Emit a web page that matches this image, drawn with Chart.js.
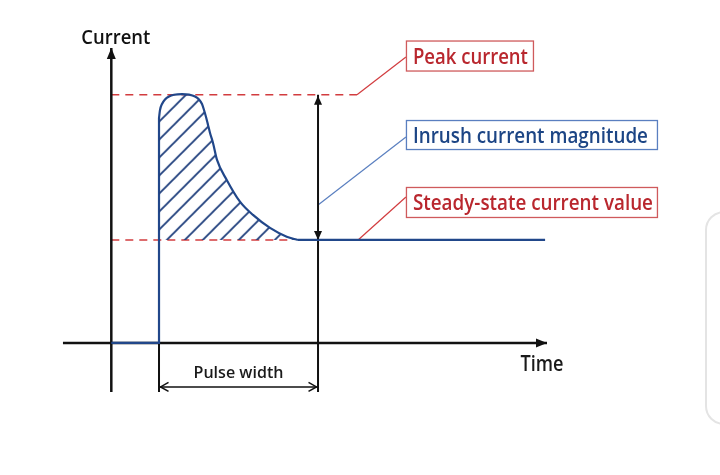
<!DOCTYPE html>
<html><head><meta charset="utf-8">
<script src="https://cdn.jsdelivr.net/npm/chart.js@4.4.1/dist/chart.umd.min.js"></script>
<style>html,body{margin:0;padding:0;background:#fff;overflow:hidden}</style>
</head><body>
<canvas id="c" width="720" height="475"></canvas>
<script>
// ---- data (time in ms, current in A) ----
const pulseT = [0, 0.063, 0.189, 0.377, 0.629, 0.943, 1.447, 1.887, 2.264, 2.516, 2.704, 2.830, 2.956, 3.082, 3.208, 3.396, 3.648, 4.26, 5.09, 5.91, 6.98, 8.03, 8.74];
const pulseI = [2.184, 2.262, 2.320, 2.364, 2.393, 2.410, 2.417, 2.412, 2.393, 2.364, 2.320, 2.262, 2.194, 2.117, 2.039, 1.942, 1.777, 1.583, 1.372, 1.243, 1.117, 1.032, 1.0];
const riseT = [-3, 0, 0];
const riseI = [0, 0, 2.184];
const steadyT = [8.74, 24.28];
const steadyI = [1.0, 1.0];
const peakValue = 2.41;
const steadyValue = 1.0;
const pulseWidth = 10;
const axisLabels = ["Current", "Time"];
const pulseLabel = "Pulse width";
const calloutTexts = ["Peak current", "Inrush current magnitude", "Steady-state current value"];

// ---- layout ----
const X_MIN = -10, X_MAX = 35.28, Y_MIN = -1.282, Y_MAX = 3.330;
const yAxisT = -3, xAxisStart = -6.04, xAxisEnd = 24.4, yAxisTop = 2.864, dropBottom = -0.476, pwArrowI = -0.427;
const leaderT = 15.53;
const callouts = [
  {i: 0, I: 2.786, from: [12.45, peakValue], to: [leaderT, 2.777], w: 128, h: 31, kind: 'red', textW: 115},
  {i: 1, I: 2.019, from: [pulseWidth, 1.34], to: [leaderT, 2.0], w: 252, h: 30, kind: 'blue', textW: 235},
  {i: 2, I: 1.364, from: [12.52, steadyValue], to: [leaderT, 1.417], w: 252, h: 31, kind: 'red', textW: 240}
];
const COL = {
  blue: '#21478a', hatch: '#1f3f7c', blueBox: '#5a7fc0', blueText: '#1c4585',
  red: '#d23c3f', redBox: '#cf5a5c', redText: '#b9272e', black: '#111111'
};

const pts = (xs, ys) => xs.map((x, k) => ({x, y: ys[k]}));

// hatch pattern
const pc = document.createElement('canvas');
pc.width = 18; pc.height = 18;
const pctx = pc.getContext('2d');
pctx.strokeStyle = COL.hatch; pctx.lineWidth = 1.8;
pctx.beginPath();
pctx.moveTo(-2, 20); pctx.lineTo(20, -2);
pctx.moveTo(-2, 2); pctx.lineTo(2, -2);
pctx.moveTo(16, 20); pctx.lineTo(20, 16);
pctx.stroke();
const hatch = pctx.createPattern(pc, 'repeat');
try { hatch.setTransform(new DOMMatrix().translate(10.7, 0)); } catch (e) {}

function line(data, color, width, order, extra) {
  return Object.assign({data, borderColor: color, borderWidth: width, pointRadius: 0, showLine: true,
    fill: false, tension: 0, order}, extra || {});
}

const datasets = [
  line(pts(pulseT, pulseI), COL.blue, 2.2, 1, {cubicInterpolationMode: 'monotone', fill: {value: steadyValue}, backgroundColor: hatch}),
  line(pts(riseT, riseI), COL.blue, 2.2, 1),
  line(pts(steadyT, steadyI), COL.blue, 2.2, 1),
  line([{x: yAxisT, y: peakValue}, {x: 12.45, y: peakValue}], COL.red, 1.5, 3, {borderDash: [8, 6]}),
  line([{x: yAxisT, y: steadyValue}, {x: 8.4, y: steadyValue}], COL.red, 1.5, 3, {borderDash: [8, 6]}),
  line([{x: xAxisStart, y: 0}, {x: xAxisEnd, y: 0}], COL.black, 2.5, 2),
  line([{x: yAxisT, y: dropBottom}, {x: yAxisT, y: yAxisTop}], COL.black, 2.5, 2),
  line([{x: 0, y: 0}, {x: 0, y: dropBottom}], COL.black, 2, 2),
  line([{x: pulseWidth, y: dropBottom}, {x: pulseWidth, y: peakValue}], COL.black, 2, 2),
  line([{x: 0, y: pwArrowI}, {x: pulseWidth, y: pwArrowI}], COL.black, 1.5, 2)
];
callouts.forEach(c => {
  datasets.push(line([{x: c.from[0], y: c.from[1]}, {x: c.to[0], y: c.to[1]}],
    c.kind === 'red' ? COL.red : COL.blueBox, 1.2, 4));
});

function drawText(ctx, text, x, base, size, color, targetW, align) {
  ctx.save();
  ctx.font = '600 ' + size + 'px "Open Sans", "Noto Sans", sans-serif';
  const w = ctx.measureText(text).width;
  const s = targetW / w;
  let left = x;
  if (align === 'center') left = x - targetW / 2;
  ctx.translate(left, base);
  ctx.scale(s, 1);
  ctx.fillStyle = color;
  ctx.textBaseline = 'alphabetic';
  ctx.textAlign = 'left';
  ctx.fillText(text, 0, 0);
  ctx.restore();
}
function tri(ctx, tx, ty, dx, dy, len, half) {
  const bx = tx - dx * len, by = ty - dy * len;
  ctx.beginPath();
  ctx.moveTo(tx, ty);
  ctx.lineTo(bx - dy * half, by + dx * half);
  ctx.lineTo(bx + dy * half, by - dx * half);
  ctx.closePath(); ctx.fill();
}
function chevron(ctx, tx, ty, dx, len, half) {
  ctx.beginPath();
  ctx.moveTo(tx - dx * len, ty - half);
  ctx.lineTo(tx, ty);
  ctx.lineTo(tx - dx * len, ty + half);
  ctx.stroke();
}

const decor = {
  id: 'decor',
  beforeDraw(chart) {
    const ctx = chart.ctx;
    ctx.save();
    ctx.fillStyle = '#fff';
    ctx.fillRect(0, 0, chart.width, chart.height);
    ctx.strokeStyle = '#e4e4e4'; ctx.lineWidth = 2;
    ctx.beginPath();
    if (ctx.roundRect) ctx.roundRect(706, 212, 60, 212, 18); else ctx.rect(706, 212, 60, 212);
    ctx.stroke();
    ctx.restore();
  },
  afterDatasetsDraw(chart) {
    const ctx = chart.ctx, X = chart.scales.x, Y = chart.scales.y;
    const px = v => X.getPixelForValue(v), py = v => Y.getPixelForValue(v);
    ctx.save();
    ctx.fillStyle = COL.black; ctx.strokeStyle = COL.black;
    tri(ctx, px(yAxisT), py(yAxisTop), 0, -1, 11, 4.5);
    tri(ctx, px(xAxisEnd), py(0), 1, 0, 11, 4.5);
    tri(ctx, px(pulseWidth), py(peakValue) + 1, 0, -1, 9, 4);
    tri(ctx, px(pulseWidth), py(steadyValue), 0, 1, 9, 4);
    ctx.lineWidth = 1.5;
    chevron(ctx, px(0) + 1.5, py(pwArrowI), -1, 8, 4.5);
    chevron(ctx, px(pulseWidth) - 1.5, py(pwArrowI), 1, 8, 4.5);
    callouts.forEach(c => {
      const left = px(leaderT), cy = py(c.I);
      ctx.fillStyle = '#fff';
      ctx.fillRect(left, cy - c.h / 2, c.w, c.h);
      ctx.lineWidth = 1.3;
      ctx.strokeStyle = c.kind === 'red' ? COL.redBox : COL.blueBox;
      ctx.strokeRect(left + 0.5, cy - c.h / 2 + 0.5, c.w - 1, c.h - 1);
      drawText(ctx, calloutTexts[c.i], left + 7, cy + 8, 22, c.kind === 'red' ? COL.redText : COL.blueText, c.textW, 'left');
    });
    drawText(ctx, axisLabels[0], px(yAxisT) + 4.5, py(yAxisTop) - 4, 20, COL.black, 69, 'center');
    drawText(ctx, axisLabels[1], px(xAxisEnd) - 5, py(0) + 28, 22, '#1a1a1a', 43, 'center');
    drawText(ctx, pulseLabel, px(pulseWidth / 2), py(pwArrowI) - 9, 17, '#1a1a1a', 90, 'center');
    ctx.restore();
  }
};

new Chart(document.getElementById('c'), {
  type: 'scatter',
  data: {datasets},
  options: {
    responsive: false, animation: false,
    layout: {padding: 0},
    plugins: {legend: {display: false}, tooltip: {enabled: false}},
    scales: {
      x: {type: 'linear', display: false, min: X_MIN, max: X_MAX},
      y: {type: 'linear', display: false, min: Y_MIN, max: Y_MAX}
    }
  },
  plugins: [decor]
});
</script>
</body></html>
